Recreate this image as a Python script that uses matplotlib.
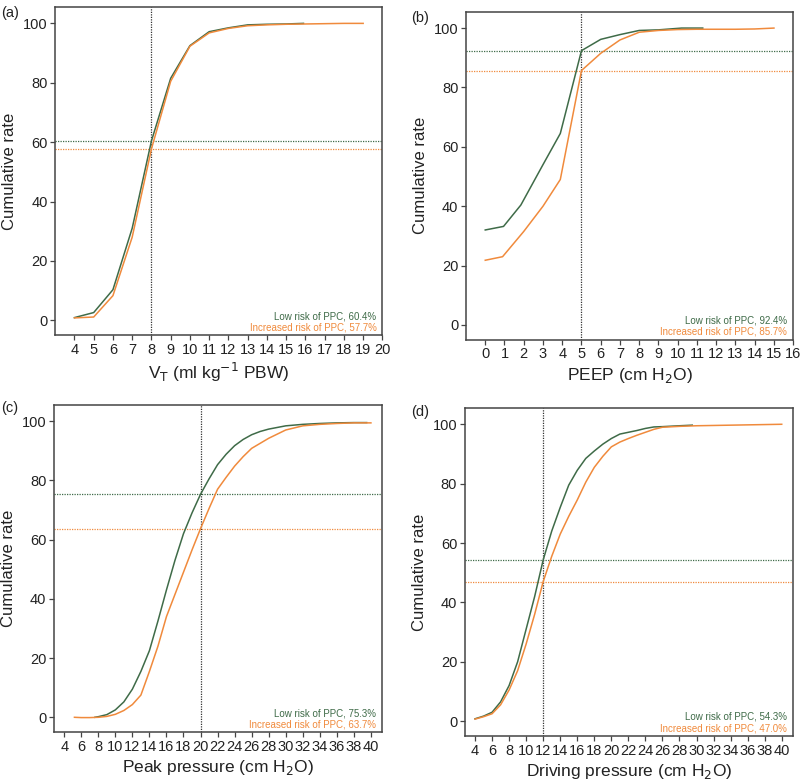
import numpy as np
import matplotlib
matplotlib.use("Agg")
import matplotlib.pyplot as plt

plt.rcParams.update({
    "font.family": ["Liberation Sans", "DejaVu Sans"],
    "axes.edgecolor": "#444444",
    "axes.linewidth": 1.1,
    "xtick.color": "#444444",
    "ytick.color": "#444444",
    "xtick.labelcolor": "#222222",
    "ytick.labelcolor": "#222222",
})

green = "#3f6b48"
orange = "#f08a3c"

# (a) tidal volume
vt_x_low = [4, 5, 6, 7, 8, 9, 10, 11, 12, 13, 14, 15, 15.9]
vt_low = [0.9, 2.6, 10.3, 31, 60.4, 81.5, 92.5, 97.2, 98.5, 99.5, 99.7, 99.8, 100]
vt_x_inc = [4, 5, 6, 7, 8, 9, 10, 11, 12, 13, 14, 15, 16, 17, 18, 19]
vt_inc = [0.8, 1.1, 8.3, 28, 57.7, 80.5, 92.3, 96.8, 98.3, 99.2, 99.5, 99.7, 99.8, 99.9, 100, 100]

# (b) PEEP
peep_x_low = [0, 0.95, 1.85, 3, 3.9, 5, 6, 7, 8, 9, 10.2, 11.3]
peep_low = [32, 33.2, 40.4, 54, 64.5, 92.4, 96.2, 97.8, 99.2, 99.4, 100, 100]
peep_x_inc = [0, 0.9, 2, 3, 3.9, 5, 6, 7, 8, 9, 10, 11, 12, 13, 14, 15]
peep_inc = [21.8, 23, 31.5, 40, 49, 85.7, 91.5, 96, 98.6, 99.2, 99.5, 99.6, 99.6, 99.6, 99.7, 100]

# (c) peak pressure
pk_x_low = [7.6, 8, 9, 10, 11, 12, 13, 14, 15, 16, 17, 18, 19, 20, 21, 22, 23,
            24, 25, 26, 27, 28, 30, 32, 34, 36, 38, 39.5]
pk_low = [0, 0.2, 0.9, 2.5, 5.2, 9.5, 15.5, 22.5, 32.5, 43, 53, 62, 69, 75.3,
          80.5, 85.3, 88.8, 91.7, 93.8, 95.4, 96.5, 97.3, 98.4, 98.9, 99.2, 99.4, 99.5, 99.5]
pk_x_inc = [5.2, 6, 7, 8, 9, 10, 11, 12, 13, 14, 15, 16, 17, 18, 19, 20, 21, 22,
            23, 24, 25, 26, 28, 30, 32, 34, 36, 38, 40]
pk_inc = [0, -0.1, -0.1, 0, 0.3, 1, 2.3, 4.3, 7.5, 15.5, 24, 34, 41.5, 49, 56.5,
          63.7, 70.5, 77, 81, 84.8, 88, 90.8, 94.2, 97, 98.4, 98.9, 99.2, 99.4, 99.4]

# (d) driving pressure
dp_x_low = [4, 5, 6, 7, 8, 9, 10, 11, 12, 13, 14, 15, 16, 17, 18, 19, 20, 21,
            22, 23, 24, 25, 26, 28, 29.5]
dp_low = [0.8, 1.7, 3, 6.5, 12, 20, 31, 42, 54.3, 64, 72, 79.5, 84.5, 88.5, 91,
          93.3, 95.2, 96.7, 97.3, 97.9, 98.6, 99.1, 99.2, 99.5, 99.7]
dp_x_inc = [4, 5, 6, 7, 8, 9, 10, 11, 12, 13, 14, 15, 16, 17, 18, 19, 20, 21,
            22, 23, 24, 25, 26, 28, 30, 32, 36, 40]
dp_inc = [0.7, 1.5, 2.5, 5.5, 10.5, 17, 26, 36, 47, 55.5, 63, 69, 74.5, 80.5, 85.5,
          89.2, 92.4, 94, 95.2, 96.3, 97.3, 98.3, 99, 99.3, 99.5, 99.6, 99.8, 100]

panels = [
    dict(tag="(a)", pos=[0.069, 0.572, 0.409, 0.419], xlim=(3, 20), xticks=np.arange(4, 21, 1),
         xl=vt_x_low, yl=vt_low, xi=vt_x_inc, yi=vt_inc, vx=8, hl=60.4, hi=57.7,
         label="V$_\\mathrm{T}$ (ml kg$^{-1}$ PBW)", tagxy=(0.002, 0.992)),
    dict(tag="(b)", pos=[0.5825, 0.566, 0.409, 0.419], xlim=(-1, 16), xticks=np.arange(0, 17, 1),
         xl=peep_x_low, yl=peep_low, xi=peep_x_inc, yi=peep_inc, vx=5, hl=92.4, hi=85.7,
         label="PEEP (cm H$_2$O)", tagxy=(0.514, 0.986)),
    dict(tag="(c)", pos=[0.0675, 0.065, 0.41, 0.418], xlim=(2.8, 41.3), xticks=np.arange(4, 41, 2),
         xl=pk_x_low, yl=pk_low, xi=pk_x_inc, yi=pk_inc, vx=20, hl=75.3, hi=63.7,
         label="Peak pressure (cm H$_2$O)", tagxy=(0.002, 0.488)),
    dict(tag="(d)", pos=[0.581, 0.060, 0.41, 0.419], xlim=(2.8, 41.3), xticks=np.arange(4, 41, 2),
         xl=dp_x_low, yl=dp_low, xi=dp_x_inc, yi=dp_inc, vx=12, hl=54.3, hi=47.0,
         label="Driving pressure (cm H$_2$O)", tagxy=(0.514, 0.483)),
]

fig = plt.figure(figsize=(8, 7.83), dpi=100)

for p in panels:
    ax = fig.add_axes(p["pos"])
    ax.plot(p["xl"], p["yl"], color=green, linewidth=1.1, zorder=3)
    ax.plot(p["xi"], p["yi"], color=orange, linewidth=1.1, zorder=3)
    ax.axvline(p["vx"], color="#333333", linestyle=(0, (1, 1)), linewidth=0.9)
    ax.axhline(p["hl"], color=green, linestyle=(0, (1, 1)), linewidth=0.9)
    ax.axhline(p["hi"], color=orange, linestyle=(0, (1, 1)), linewidth=0.9)
    ax.set_xlim(*p["xlim"])
    ax.set_ylim(-5, 105.5)
    ax.set_xticks(p["xticks"])
    ax.set_yticks([0, 20, 40, 60, 80, 100])
    ax.tick_params(labelsize=10.5, length=3.5, width=0.9, pad=2)
    ax.set_xlabel(p["label"], fontsize=12.5, color="#222222", labelpad=3)
    ax.set_ylabel("Cumulative rate", fontsize=12, color="#222222", labelpad=4)
    ax.text(0.982, 0.058, "Low risk of PPC, %.1f%%" % p["hl"], transform=ax.transAxes,
            ha="right", va="center", fontsize=7, color=green)
    ax.text(0.982, 0.024, "Increased risk of PPC, %.1f%%" % p["hi"], transform=ax.transAxes,
            ha="right", va="center", fontsize=7, color=orange)
    fig.text(p["tagxy"][0], p["tagxy"][1], p["tag"], ha="left", va="top",
             fontsize=10.5, color="#222222")

fig.savefig("out.png", dpi=100)
